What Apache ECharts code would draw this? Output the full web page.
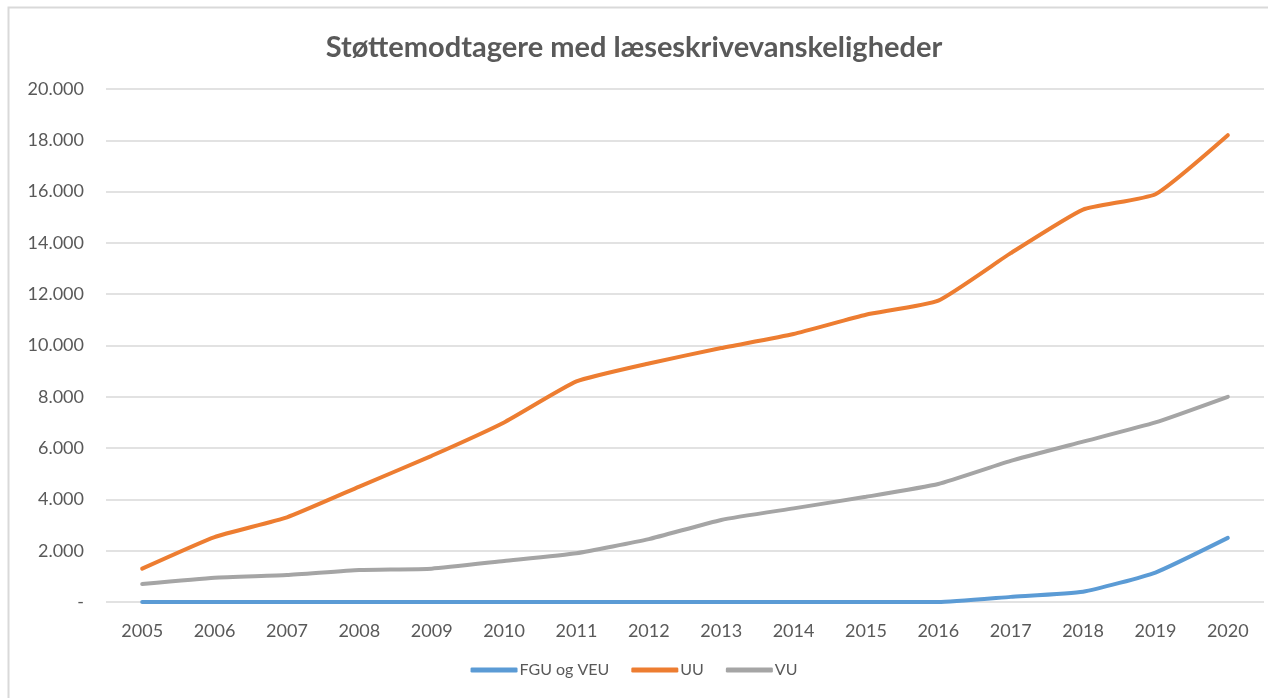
<!DOCTYPE html>
<html>
<head>
<meta charset="utf-8">
<script src="https://cdn.jsdelivr.net/npm/echarts@6/dist/echarts.min.js"></script>
<style>
    html, body { margin: 0; padding: 0; background: #fff; }
    #main { width: 1268px; height: 698px; }
</style>
</head>
<body>
<div id="main"></div>
<script>
    var years = ['2005', '2006', '2007', '2008', '2009', '2010', '2011', '2012',
                 '2013', '2014', '2015', '2016', '2017', '2018', '2019', '2020'];
    // FGU og VEU
    var fguVeu = [0, 0, 0, 0, 0, 0, 0, 0, 0, 0, 0, 0, 200, 400, 1150, 2500];
    // UU
    var uu = [1300, 2530, 3300, 4500, 5700, 7000, 8600, 9300,
              9900, 10450, 11200, 11750, 13600, 15300, 15900, 18200];
    // VU
    var vu = [700, 950, 1050, 1250, 1300, 1600, 1900, 2450,
              3200, 3650, 4100, 4600, 5500, 6250, 7000, 8000];

    var textColor = '#595959';
    var fontName = 'Lato, "Open Sans", sans-serif';

    var myChart = echarts.init(document.getElementById('main'));

    function fmt(v) {
        if (v === 0) return '-';
        return String(v).replace(/\B(?=(\d{3})+(?!\d))/g, '.');
    }

    function lineSeries(name, data, color) {
        return {
            name: name,
            type: 'line',
            data: data,
            smooth: 0.15,
            symbol: 'none',
            lineStyle: { width: 4, color: color, cap: 'round' },
            itemStyle: { color: color }
        };
    }

    var option = {
        animation: false,
        textStyle: { fontFamily: fontName },
        title: {
            text: 'Støttemodtagere med læseskrivevanskeligheder',
            left: 'center',
            top: 28,
            textStyle: { color: textColor, fontSize: 29, fontWeight: 'bold', fontFamily: fontName }
        },
        legend: {
            bottom: 15,
            left: 'center',
            itemWidth: 47,
            itemHeight: 5,
            itemGap: 22,
            icon: 'roundRect',
            textStyle: { color: textColor, fontSize: 16, fontFamily: fontName, padding: [0, 0, 0, -3] },
            data: ['FGU og VEU', 'UU', 'VU']
        },
        grid: { left: 106, right: 4, top: 89, bottom: 96, containLabel: false },
        xAxis: {
            type: 'category',
            data: years,
            boundaryGap: true,
            axisLine: { show: false },
            axisTick: { show: false },
            axisLabel: { color: textColor, fontSize: 18, margin: 20, fontFamily: fontName }
        },
        yAxis: {
            type: 'value',
            min: 0,
            max: 20000,
            interval: 2000,
            axisLine: { show: false },
            axisTick: { show: false },
            splitLine: { lineStyle: { color: '#d9d9d9', width: 1.5 } },
            axisLabel: { color: textColor, fontSize: 18, margin: 22, formatter: fmt, fontFamily: fontName }
        },
        graphic: [{
            type: 'polyline',
            silent: true,
            shape: { points: [[8.5, 698], [8.5, 7.5], [1268, 7.5]] },
            style: { stroke: '#d9d9d9', lineWidth: 2, fill: null }
        }],
        series: [
            lineSeries('FGU og VEU', fguVeu, '#5b9bd5'),
            lineSeries('UU', uu, '#ed7d31'),
            lineSeries('VU', vu, '#a5a5a5')
        ]
    };

    myChart.setOption(option);
</script>
</body>
</html>
